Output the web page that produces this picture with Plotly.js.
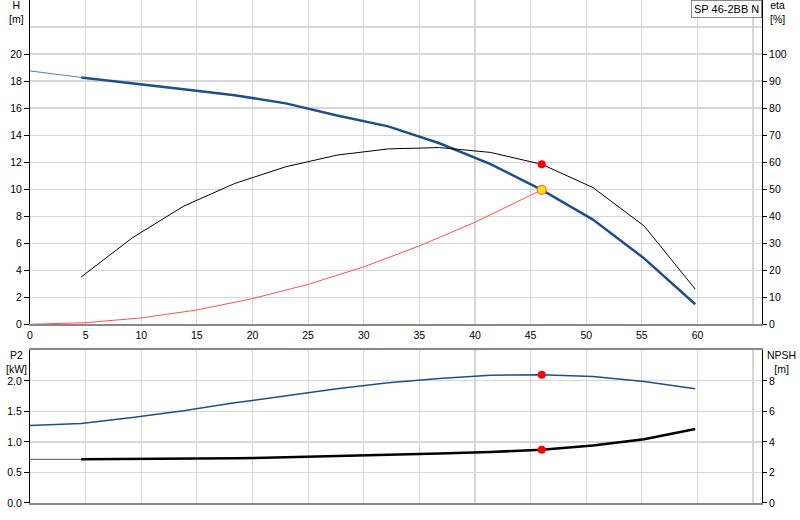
<!DOCTYPE html>
<html>
<head>
<meta charset="utf-8">
<script src="https://cdn.plot.ly/plotly-3.0.1.min.js"></script>
<style>
  html, body { margin: 0; padding: 0; background: #fff; }
  #chart { width: 800px; height: 520px; }
</style>
</head>
<body>
<div id="chart"></div>
<script>
// Pump curve sheet: H / eta on top, P2 / NPSH below.

// flow points of the pump curves [m³/h]
const qPts = [0, 4.6, 9.2, 13.8, 18.4, 23.0, 27.6, 32.2, 36.8, 41.4, 46.0, 50.6, 55.2, 59.8];
const headVals = [18.75, 18.27, 17.85, 17.4, 16.95, 16.35, 15.45, 14.65, 13.4, 11.85, 9.95, 7.75, 4.88, 1.48];
// eta and NPSH start at the second flow point
const etaVals = [17.5, 32.0, 43.7, 52.1, 58.3, 62.6, 64.9, 65.4, 63.6, 59.2, 50.6, 36.4, 13.0];
const p2Vals = [1.27, 1.30, 1.40, 1.51, 1.64, 1.76, 1.87, 1.97, 2.04, 2.09, 2.10, 2.07, 1.99, 1.87];
const npshVals = [2.86, 2.87, 2.89, 2.93, 2.99, 3.06, 3.15, 3.24, 3.34, 3.49, 3.76, 4.18, 4.84];

// system curve
const sysQ = [0, 5, 10, 15, 20, 25, 30, 35, 40, 46];
const sysH = [0, 0.12, 0.47, 1.06, 1.9, 2.95, 4.25, 5.8, 7.55, 9.95];

// duty point
const dutyQ = 46.0;
const dutyH = 9.95;
const dutyEta = 59.2;
const dutyP2 = 2.10;
const dutyNpsh = 3.49;

const xTicks = [0, 5, 10, 15, 20, 25, 30, 35, 40, 45, 50, 55, 60, 65];
const xTickText = ['0', '5', '10', '15', '20', '25', '30', '35', '40', '45', '50', '55', '60', ''];
const hTicks = [0, 2, 4, 6, 8, 10, 12, 14, 16, 18, 20];
const etaTicks = [0, 10, 20, 30, 40, 50, 60, 70, 80, 90, 100];
const p2Ticks = [0, 0.5, 1.0, 1.5, 2.0];
const npshTicks = [0, 2, 4, 6, 8];

const BLUE = '#1d4f8c';
const GRID = '#d6d6d6';
const FONT = 'Liberation Sans, Arial, sans-serif';
const qMax = 65.8;

const etaQ = qPts.slice(1);

const traces = [
    // system curve
    { x: sysQ, y: sysH, xaxis: 'x', yaxis: 'y', mode: 'lines', line: { color: '#ff5050', width: 1 } },
    // head: thin start then thick
    { x: qPts.slice(0, 2), y: headVals.slice(0, 2), xaxis: 'x', yaxis: 'y', mode: 'lines', line: { color: '#5a7fae', width: 1 } },
    { x: qPts.slice(1), y: headVals.slice(1), xaxis: 'x', yaxis: 'y', mode: 'lines', line: { color: BLUE, width: 2.5 } },
    // efficiency
    { x: etaQ, y: etaVals, xaxis: 'x', yaxis: 'y2', mode: 'lines', line: { color: '#000', width: 1 } },
    { x: [dutyQ], y: [dutyEta], xaxis: 'x', yaxis: 'y2', mode: 'markers', marker: { color: '#ff0000', size: 8 } },
    { x: [dutyQ], y: [dutyH], xaxis: 'x', yaxis: 'y', mode: 'markers', marker: { color: '#ffe000', size: 9, line: { color: '#ff6a3a', width: 1.2 } } },
    // power
    { x: qPts, y: p2Vals, xaxis: 'x2', yaxis: 'y3', mode: 'lines', line: { color: BLUE, width: 1.5 } },
    { x: [dutyQ], y: [dutyP2], xaxis: 'x2', yaxis: 'y3', mode: 'markers', marker: { color: '#ff0000', size: 8 } },
    // NPSH
    { x: qPts.slice(0, 2), y: [npshVals[0], npshVals[0]], xaxis: 'x2', yaxis: 'y4', mode: 'lines', line: { color: '#555', width: 1 } },
    { x: etaQ, y: npshVals, xaxis: 'x2', yaxis: 'y4', mode: 'lines', line: { color: '#000', width: 2.5 } },
    { x: [dutyQ], y: [dutyNpsh], xaxis: 'x2', yaxis: 'y4', mode: 'markers', marker: { color: '#ff0000', size: 8 } },
];

const tickFont = { family: FONT, size: 10.5, color: '#000' };

const layout = {
    width: 800, height: 520,
    margin: { l: 30, r: 38, t: 0, b: 17 },
    paper_bgcolor: '#fff', plot_bgcolor: '#fff',
    showlegend: false,
    font: { family: FONT, size: 10.5, color: '#000' },
    xaxis: {
        domain: [0, 1], anchor: 'y', range: [0, qMax],
        tickvals: xTicks, ticktext: xTickText, ticks: '',
        showgrid: true, gridcolor: GRID, gridwidth: 1.2, zeroline: false,
        showline: true, linecolor: '#888', linewidth: 2, mirror: true,
        tickfont: tickFont,
    },
    yaxis: {
        domain: [0.3553, 1], anchor: 'x', range: [0, 24],
        tickvals: hTicks, ticks: 'outside', ticklen: 5, tickcolor: '#000',
        showgrid: true, gridcolor: GRID, gridwidth: 1.2, zeroline: false,
        minor: { dtick: 2, tick0: 0, showgrid: true, gridcolor: GRID, gridwidth: 1.2, ticks: '' },
        showline: true, linecolor: '#000', linewidth: 1,
        tickfont: tickFont,
    },
    yaxis2: {
        overlaying: 'y', side: 'right', anchor: 'x', range: [0, 120],
        tickvals: etaTicks, ticks: 'outside', ticklen: 4, tickcolor: '#000',
        showgrid: false, zeroline: false,
        showline: true, linecolor: '#000', linewidth: 1,
        tickfont: tickFont,
    },
    xaxis2: {
        domain: [0, 1], anchor: 'y3', range: [0, qMax],
        tickvals: xTicks, showticklabels: false, ticks: '',
        showgrid: true, gridcolor: GRID, gridwidth: 1.2, zeroline: false,
        showline: true, linecolor: '#888', linewidth: 2, mirror: true,
    },
    yaxis3: {
        domain: [0, 0.3036], anchor: 'x2', range: [0, 2.5],
        tickvals: p2Ticks, tickformat: '.1f', ticks: 'outside', ticklen: 5, tickcolor: '#000',
        showgrid: true, gridcolor: GRID, gridwidth: 1.2, zeroline: false,
        showline: true, linecolor: '#000', linewidth: 1,
        tickfont: tickFont,
    },
    yaxis4: {
        overlaying: 'y3', side: 'right', anchor: 'x2', range: [0, 10],
        tickvals: npshTicks, ticks: 'outside', ticklen: 4, tickcolor: '#000',
        showgrid: false, zeroline: false,
        showline: true, linecolor: '#000', linewidth: 1,
        tickfont: tickFont,
    },
    annotations: [
        { text: 'H<br>[m]', xref: 'paper', yref: 'paper', x: -0.018, y: 0.976, xanchor: 'center', yanchor: 'middle', showarrow: false, font: { size: 10.5 } },
        { text: 'eta<br>[%]', xref: 'paper', yref: 'paper', x: 1.021, y: 0.976, xanchor: 'center', yanchor: 'middle', showarrow: false, font: { size: 10.5 } },
        { text: 'P2<br>[kW]', xref: 'paper', yref: 'paper', x: -0.018, y: 0.28, xanchor: 'center', yanchor: 'middle', showarrow: false, font: { size: 10.5 } },
        { text: 'NPSH<br>[m]', xref: 'paper', yref: 'paper', x: 1.026, y: 0.281, xanchor: 'center', yanchor: 'middle', showarrow: false, font: { size: 10.5 } },
        { text: 'Q [m³/h]', xref: 'x', yref: 'y', x: 63.8, y: -0.72, xanchor: 'center', yanchor: 'middle', showarrow: false, font: { size: 10.5 } },
        { text: 'SP 46-2BB N', xref: 'paper', yref: 'paper', x: 1, y: 1, xanchor: 'right', yanchor: 'top', showarrow: false,
          bgcolor: '#fff', bordercolor: '#888', borderwidth: 1, borderpad: 2, font: { size: 11 } },
    ],
};

Plotly.newPlot('chart', traces, layout, { displayModeBar: false, staticPlot: true });
</script>
</body>
</html>
